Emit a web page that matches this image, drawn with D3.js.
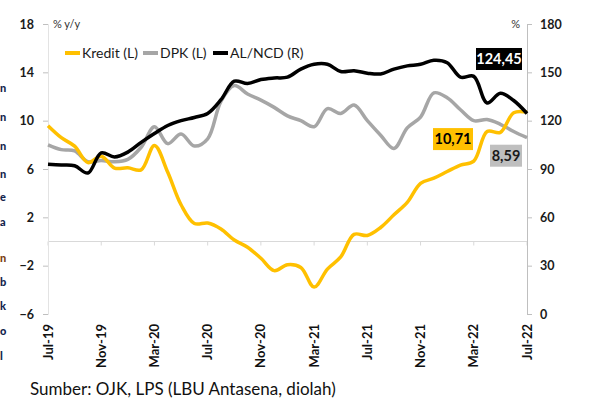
<!DOCTYPE html>
<html><head><meta charset="utf-8">
<script src="https://cdn.jsdelivr.net/npm/d3@7"></script>
<style>
html,body{margin:0;padding:0;background:#fff;}
svg{display:block;font-family:Lato,"Open Sans",sans-serif;}
</style></head>
<body>
<svg id="c" width="600" height="398"></svg>
<script>
// ---- data ----
const months = ["Jul-19","Aug-19","Sep-19","Oct-19","Nov-19","Dec-19","Jan-20","Feb-20","Mar-20","Apr-20","May-20","Jun-20",
"Jul-20","Aug-20","Sep-20","Oct-20","Nov-20","Dec-20","Jan-21","Feb-21","Mar-21","Apr-21","May-21","Jun-21",
"Jul-21","Aug-21","Sep-21","Oct-21","Nov-21","Dec-21","Jan-22","Feb-22","Mar-22","Apr-22","May-22","Jun-22","Jul-22"];
const tickLabels = ["Jul-19","Nov-19","Mar-20","Jul-20","Nov-20","Mar-21","Jul-21","Nov-21","Mar-22","Jul-22"];
const kredit = [9.58,8.59,7.89,6.53,7.05,6.08,6.10,5.93,7.95,5.73,3.04,1.49,1.53,1.04,0.12,-0.47,-1.39,-2.41,-1.92,-2.15,-3.77,-2.28,-1.28,0.59,0.50,1.16,2.21,3.24,4.82,5.24,5.79,6.33,6.65,9.10,9.03,10.66,10.71];
const dpk = [8.0,7.6,7.5,6.6,6.7,6.6,6.8,7.8,9.5,8.1,8.9,7.9,8.5,11.6,12.9,12.2,11.7,11.1,10.4,10.0,9.5,11.0,10.6,11.3,10.0,8.8,7.7,9.4,10.3,12.3,11.9,10.9,10.0,10.1,9.7,9.1,8.59];
const alncd = [93,92.5,92,87.5,100,97.5,100.5,106.5,112,117,120,122,124.5,133,144.5,143,145.5,146.5,147,152,155,155,150.5,151,149.5,149,152,154,155,157.5,156,147,147.5,131,137,132.5,124.45];
const leftTicks = [-6,-2,2,6,10,14,18];
const rightTicks = [0,30,60,90,120,150,180];
const seriesNames = ["Kredit (L)","DPK (L)","AL/NCD (R)"];
const endLabels = ["10,71","8,59","124,45"];
const sourceText = "Sumber: OJK, LPS (LBU Antasena, diolah)";
const edgeLetters = ["n","n","n","n","e","a","n","b","k","o","l"];

// ---- layout ----
const svg = d3.select("#c");
const L = 48, R = 527, T = 24, B = 314;
const x = d3.scaleLinear().domain([0, months.length - 1]).range([L, R]);
const yL = d3.scaleLinear().domain([-6, 18]).range([B, T]);
const yR = d3.scaleLinear().domain([0, 180]).range([B, T]);
const colors = {kredit:"#FFC000", dpk:"#A6A6A6", al:"#000000"};

// edge fragments of neighbouring text (kept whole, small, at the left edge)
const edgeY = [92,121,150,178,201,226,262,286,310,335,360];
svg.append("g").selectAll("text").data(edgeLetters).join("text")
  .attr("x",0).attr("y",(d,i)=>edgeY[i])
  .attr("font-size",11).attr("font-weight","900")
  .attr("fill",(d,i)=> i===6 ? "#7a3d12" : "#13244d").text(d=>d);

// zero gridline
svg.append("line").attr("x1",L).attr("x2",R).attr("y1",yL(0)).attr("y2",yL(0))
  .attr("stroke","#d9d9d9").attr("stroke-width",1);

// x ticks on zero line
const tickIdx = tickLabels.map(t => months.indexOf(t));
svg.append("g").selectAll("line").data(tickIdx).join("line")
  .attr("x1",d=>x(d)).attr("x2",d=>x(d)).attr("y1",yL(0)).attr("y2",yL(0)+4)
  .attr("stroke","#d9d9d9");

// left axis
const gl = svg.append("g").attr("transform",`translate(${L},0)`)
  .call(d3.axisLeft(yL).tickValues(leftTicks).tickSize(5).tickPadding(9).tickFormat(d3.format("d")));
gl.select(".domain").attr("stroke","#e3e3e3");
gl.selectAll(".tick line").attr("stroke","#bfbfbf");
gl.selectAll("text").attr("font-size",12.5).attr("font-weight","bold").attr("fill","#1a1a1a").attr("font-family","Lato");

// right axis
const gr = svg.append("g").attr("transform",`translate(${R},0)`)
  .call(d3.axisRight(yR).tickValues(rightTicks).tickSize(5).tickPadding(8).tickFormat(d3.format("d")));
gr.select(".domain").attr("stroke","#bfbfbf");
gr.selectAll(".tick line").attr("stroke","#bfbfbf");
gr.selectAll("text").attr("font-size",12.5).attr("font-weight","bold").attr("fill","#1a1a1a").attr("font-family","Lato");

// x labels (rotated)
svg.append("g").selectAll("text").data(tickIdx).join("text")
  .attr("transform",d=>`translate(${x(d)+4.5},324) rotate(-90)`)
  .attr("text-anchor","end").attr("font-size",13).attr("font-weight","bold").attr("fill","#111")
  .text((d,i)=>tickLabels[i]);

// unit labels
svg.append("text").attr("x",L+5).attr("y",T+4).attr("font-size",11).attr("fill","#333").text("% y/y");
svg.append("text").attr("x",R-7).attr("y",T+4).attr("text-anchor","end").attr("font-size",11).attr("fill","#333").text("%");

// lines
const lineL = d3.line().x((d,i)=>x(i)).y(d=>yL(d)).curve(d3.curveCatmullRom.alpha(0.5));
const lineR = d3.line().x((d,i)=>x(i)).y(d=>yR(d)).curve(d3.curveCatmullRom.alpha(0.5));
svg.append("path").datum(dpk).attr("d",lineL).attr("fill","none").attr("stroke",colors.dpk).attr("stroke-width",3.5).attr("stroke-linejoin","round");
svg.append("path").datum(kredit).attr("d",lineL).attr("fill","none").attr("stroke",colors.kredit).attr("stroke-width",3.5).attr("stroke-linejoin","round");
svg.append("path").datum(alncd).attr("d",lineR).attr("fill","none").attr("stroke",colors.al).attr("stroke-width",3.5).attr("stroke-linejoin","round");

// legend
const legItems = [
  {name:seriesNames[0], c:colors.kredit, x0:65},
  {name:seriesNames[1], c:colors.dpk, x0:143},
  {name:seriesNames[2], c:colors.al, x0:213}
];
const lg = svg.append("g");
legItems.forEach(it=>{
  lg.append("line").attr("x1",it.x0).attr("x2",it.x0+15).attr("y1",53).attr("y2",53).attr("stroke",it.c).attr("stroke-width",4);
  lg.append("text").attr("x",it.x0+17).attr("y",58).attr("font-size",14).attr("fill","#1a1a1a").text(it.name);
});

// end labels
const last = months.length - 1;
const lab = [
  {t:endLabels[0], cx:x(last)-74, cy:yL(kredit[last])+27, bg:colors.kredit, fg:"#000", w:40},
  {t:endLabels[1], cx:x(last)-21, cy:yL(dpk[last])+18, bg:"#BFBFBF", fg:"#1a1a1a", w:32},
  {t:endLabels[2], cx:x(last)-28, cy:yR(alncd[last])-54.5, bg:"#000", fg:"#fff", w:46}
];
lab.forEach(l=>{
  svg.append("rect").attr("x",l.cx-l.w/2).attr("y",l.cy-11).attr("width",l.w).attr("height",22).attr("fill",l.bg);
  svg.append("text").attr("x",l.cx).attr("y",l.cy+5).attr("text-anchor","middle")
    .attr("font-size",14.5).attr("font-weight","bold").attr("fill",l.fg).text(l.t);
});

// source
svg.append("text").attr("x",30).attr("y",395).attr("font-size",17).attr("fill","#111").text(sourceText);
</script>
</body></html>
